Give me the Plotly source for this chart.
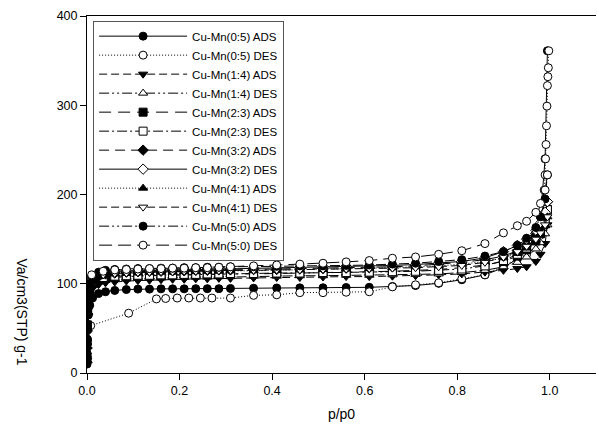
import plotly.graph_objects as go

# relative pressure grids
p_ads = [0.0001, 0.0003, 0.0007, 0.0015, 0.003, 0.006, 0.012, 0.025, 0.04, 0.06,
         0.085, 0.11, 0.135, 0.16, 0.185, 0.21, 0.235, 0.26, 0.285, 0.31,
         0.36, 0.41, 0.46, 0.51, 0.56, 0.61, 0.66, 0.71, 0.76, 0.81,
         0.86, 0.9, 0.93, 0.95, 0.97, 0.98, 0.99, 0.995]
p_des = [0.995, 0.99, 0.98, 0.97, 0.95, 0.93, 0.9, 0.86, 0.81, 0.76,
         0.71, 0.66, 0.61, 0.56, 0.51, 0.46, 0.41, 0.36, 0.31, 0.285,
         0.26, 0.235, 0.21, 0.185, 0.16, 0.135, 0.11, 0.085, 0.06, 0.035, 0.01]
p_des_05 = [0.998, 0.997, 0.996, 0.995, 0.994, 0.993, 0.992, 0.991, 0.99, 0.988,
            0.985, 0.98, 0.97, 0.95, 0.9, 0.86, 0.81, 0.76, 0.71, 0.66,
            0.61, 0.56, 0.51, 0.46, 0.41, 0.36, 0.31, 0.27, 0.245, 0.22,
            0.195, 0.17, 0.15, 0.09, 0.008]

# adsorbed volumes (cm3(STP)/g)
ads_05 = [10, 22, 38, 52, 65, 76, 84, 89, 91, 92.5, 93.5, 94, 94, 94.3, 94.3, 94.3, 94.5, 94.5, 94.5, 94.7,
          95, 95.2, 95.4, 95.5, 95.8, 96, 97, 98, 100.5, 104.5, 110, 118, 128, 138, 153, 175, 240, 361]
des_05 = [361, 342, 332, 322, 299, 277, 256, 240, 222, 205, 183, 165, 150, 133, 120, 110, 105.5, 101, 98.8, 96.5,
          91, 90.5, 90, 90, 87.6, 87, 84, 84, 84, 84, 84, 83.5, 83, 67, 53]
ads_14 = [14, 30, 48, 64, 78, 88, 95, 99, 101, 102, 103, 103.5, 104, 104.5, 105, 105, 105.5, 105.5, 106, 106,
          106.5, 107, 107, 107.5, 108, 108, 108.5, 109, 110, 111, 113, 115, 117, 119, 125, 133, 145, 166]
des_14 = [166, 156, 146, 139, 130, 124, 119, 115, 112.5, 111, 110.5, 110, 109.5, 109.5, 109, 109, 108.5, 108.5, 108, 108,
          107.5, 107.5, 107, 107, 106.5, 106.5, 106, 105.5, 105, 103, 99]
ads_23 = [18, 35, 54, 70, 84, 93, 100, 104, 106, 107, 108, 108.5, 109, 109, 109.5, 110, 110, 110.5, 110.5, 111,
          111, 111.5, 112, 112, 112.5, 113, 114, 115, 116, 118, 121, 125, 131, 138, 148, 156, 168, 183]
des_23 = [183, 172, 160, 152, 140, 133, 126, 120, 116.5, 115, 114, 113.5, 113, 112.5, 112.5, 112, 112, 111.5, 111.5, 111,
          111, 110.5, 110.5, 110, 110, 109.5, 109.5, 109, 108.5, 107, 103]
ads_32 = [12, 28, 47, 66, 82, 94, 103, 108, 111, 112, 113, 113.5, 114, 114, 114.5, 114.5, 115, 115, 115.5, 115.5,
          116, 116, 116.5, 117, 117.5, 118, 119, 120, 122, 124, 127, 131, 137, 144, 154, 163, 176, 192]
des_32 = [192, 180, 168, 160, 150, 143, 136, 129, 125, 123, 121.5, 120.5, 120, 119.5, 119, 118.5, 118, 117.5, 117, 117,
          116.5, 116.5, 116, 116, 115.5, 115.5, 115, 114.5, 114, 112, 108]
ads_41 = [20, 38, 57, 74, 87, 97, 104, 108, 110, 111, 111.5, 112, 112.5, 113, 113, 113.5, 113.5, 114, 114, 114.5,
          114.5, 115, 115.5, 116, 116.5, 117, 118, 119, 120, 122, 125, 129, 134, 140, 149, 156, 165, 175]
des_41 = [175, 166, 157, 150, 142, 136, 130, 124, 120.5, 119, 118, 117.5, 117, 116.5, 116, 115.5, 115.5, 115, 115, 114.5,
          114.5, 114, 114, 113.5, 113.5, 113, 112.5, 112, 111.5, 110, 106]
ads_50 = [16, 33, 52, 71, 88, 100, 108, 113, 115, 116, 116.5, 117, 117, 117.5, 117.5, 118, 118, 118.5, 118.5, 119,
          119, 119.5, 120, 120, 120.5, 121, 122, 123, 125, 127, 131, 136, 143, 151, 163, 175, 195, 222]
des_50 = [222, 205, 190, 180, 170, 165, 157, 145, 137, 133, 130, 128.6, 126, 124.5, 123, 122, 121, 120, 119, 118.5,
          118, 118, 117.5, 117.5, 117, 117, 116.5, 116, 115.5, 114, 110]

names = ["Cu-Mn(0:5) ADS", "Cu-Mn(0:5) DES", "Cu-Mn(1:4) ADS", "Cu-Mn(1:4) DES",
         "Cu-Mn(2:3) ADS", "Cu-Mn(2:3) DES", "Cu-Mn(3:2) ADS", "Cu-Mn(3:2) DES",
         "Cu-Mn(4:1) ADS", "Cu-Mn(4:1) DES", "Cu-Mn(5:0) ADS", "Cu-Mn(5:0) DES"]
xs = [p_ads, p_des_05, p_ads, p_des, p_ads, p_des, p_ads, p_des, p_ads, p_des, p_ads, p_des]
ys = [ads_05, des_05, ads_14, des_14, ads_23, des_23, ads_32, des_32, ads_41, des_41, ads_50, des_50]

symbols = ["circle", "circle-open", "triangle-down", "triangle-up-open",
           "square", "square-open", "diamond", "diamond-open",
           "triangle-up", "triangle-down-open", "circle", "circle-open"]
dashes = ["solid", "1px,2px", "8px,4px", "10px,3px,2px,3px,2px,3px",
          "12px,7px", "10px,3px,2px,3px", "10px,6px", "solid",
          "1px,2px", "8px,4px", "10px,3px,2px,3px,2px,3px", "13px,6px"]

fig = go.Figure()
for n, x, y, s, d in zip(names, xs, ys, symbols, dashes):
    is_open = s.endswith("-open")
    base = s.replace("-open", "")
    fig.add_trace(go.Scatter(
        x=x, y=y, name=n, mode="lines+markers",
        line=dict(color="black", width=1, dash=d),
        marker=dict(symbol=base, size=8,
                    color="white" if is_open else "black",
                    line=dict(color="black", width=1)),
    ))

font = "Arial, Liberation Sans, sans-serif"
fig.update_layout(
    width=599, height=432,
    margin=dict(l=87, r=3, t=16, b=59),
    paper_bgcolor="white", plot_bgcolor="white",
    font=dict(family=font, size=12, color="black"),
    showlegend=True,
    legend=dict(x=0.012, y=0.987, xanchor="left", yanchor="top",
                bgcolor="white", bordercolor="#555555", borderwidth=1,
                font=dict(family=font, size=11.5, color="black"),
                itemwidth=88, tracegroupgap=0),
    xaxis=dict(range=[0, 1.1], tickvals=[0, 0.2, 0.4, 0.6, 0.8, 1.0],
               ticktext=["0.0", "0.2", "0.4", "0.6", "0.8", "1.0"],
               ticks="outside", ticklen=6, tickcolor="black",
               showline=True, linecolor="black", linewidth=1, mirror=True,
               showgrid=False, zeroline=False,
               title=dict(text="p/p0", font=dict(size=14), standoff=12),
               tickfont=dict(size=12.5)),
    yaxis=dict(range=[0, 400], tickvals=[0, 100, 200, 300, 400],
               ticks="outside", ticklen=6, tickcolor="black",
               showline=True, linecolor="black", linewidth=1, mirror=False,
               showgrid=False, zeroline=False, tickfont=dict(size=12.5)),
    annotations=[dict(text="Va/cm3(STP) g-1", xref="paper", yref="paper",
                      x=-0.128, y=0.17, showarrow=False, textangle=90,
                      font=dict(size=14), xanchor="center", yanchor="middle")],
)

fig.write_html("out.html", config={"displayModeBar": False},
               post_script="document.body.style.margin='0';")
